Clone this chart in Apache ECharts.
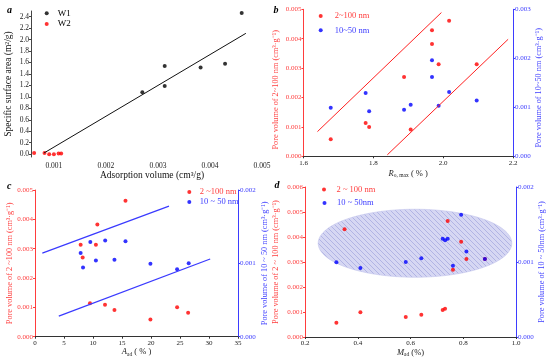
<!DOCTYPE html>
<html><head><meta charset="utf-8">
<script src="https://cdn.jsdelivr.net/npm/echarts@6/dist/echarts.min.js"></script>
<style>html,body{margin:0;padding:0;background:#fff}#c{width:550px;height:360px}</style>
</head><body><div id="c"></div>
<script>
// ---------- Panel a ----------
const aW1X = [0.0027, 0.00313, 0.00313, 0.00382, 0.00429, 0.00461];
const aW1Y = [1.08, 1.54, 1.19, 1.515, 1.58, 2.465];
const aW2X = [0.00062, 0.00082, 0.00091, 0.00100, 0.00109, 0.00114];
const aW2Y = [0.02, 0.02, 0.0, 0.0, 0.01, 0.01];
const aFitX = [0.00081, 0.00469];
const aFitY = [0.02, 2.11];
const aXTicks = [0.001, 0.002, 0.003, 0.004, 0.005];
const aYTicks = [0, 0.2, 0.4, 0.6, 0.8, 1.0, 1.2, 1.4, 1.6, 1.8, 2.0, 2.2, 2.4];
// ---------- Panel b ----------
const bRoRedX = [1.678, 1.778, 1.788, 1.888, 1.907, 1.968, 1.968, 1.987, 2.017, 2.096];
const bRedY = [0.00058, 0.00113, 0.00100, 0.00270, 0.00091, 0.00429, 0.00382, 0.00313, 0.00461, 0.00313];
const bRoBlueX = [1.678, 1.778, 1.788, 1.888, 1.907, 1.968, 1.968, 1.987, 2.017, 2.096];
const bBlueY = [0.00099, 0.00129, 0.00092, 0.00095, 0.00105, 0.00196, 0.00162, 0.00103, 0.00131, 0.00114];
const bLine1X = [1.640, 1.995], bLine1Y = [0.00084, 0.00489];
const bLine2X = [1.840, 2.186], bLine2Y = [0.00005, 0.00398];
// ---------- Panel c ----------
const cRedX = [7.87, 8.22, 10.5, 10.75, 15.6, 9.48, 12.07, 13.7, 19.9, 24.5, 26.4];
const cRedY = [0.00313, 0.00270, 0.00313, 0.00382, 0.00463, 0.00114, 0.00109, 0.00091, 0.00059, 0.00100, 0.00082];
const cBlueX = [7.87, 8.28, 9.54, 10.5, 12.1, 13.7, 15.6, 19.9, 24.5, 26.5];
const cBlueY = [0.00114, 0.000945, 0.00129, 0.00104, 0.00131, 0.00105, 0.00130, 0.000995, 0.00092, 0.00100];
const cLine1X = [1.26, 23.1], cLine1Y = [0.00114, 0.00178];
const cLine2X = [4.1, 30.2], cLine2Y = [0.00028, 0.00106];
// ---------- Panel d ----------
const dRedX = [0.319, 0.350, 0.410, 0.582, 0.641, 0.722, 0.731, 0.741, 0.792, 0.812, 0.761, 0.882];
const dRedY = [0.00057, 0.00431, 0.00099, 0.00080, 0.00089, 0.00108, 0.00113, 0.00464, 0.00381, 0.00312, 0.00269, 0.00312];
const dBlueX = [0.319, 0.410, 0.582, 0.641, 0.722, 0.731, 0.741, 0.792, 0.812, 0.761, 0.882];
const dBlueY = [0.000996, 0.00092, 0.00100, 0.00105, 0.00131, 0.00129, 0.00131, 0.00163, 0.00114, 0.00095, 0.00104];
const dEllipse = [0.617, 0.00375, 0.367, 0.00136]; // cx, cy, rx, ry

const F = '"Liberation Serif","Times New Roman",serif';
const RED = '#ff3d3d', BLUE = '#3d3dff', DARK = '#222';
const pairs = (xs, ys) => xs.map((x, i) => [x, ys[i]]);

// hatch pattern
const pc = document.createElement('canvas');
pc.width = 5; pc.height = 5;
const g = pc.getContext('2d');
g.fillStyle = '#d6d7f3'; g.fillRect(0, 0, 5, 5);
g.strokeStyle = '#adb0e2'; g.lineWidth = 0.9;
g.beginPath();
g.moveTo(0, 0); g.lineTo(5, 5);
g.moveTo(-1, 4); g.lineTo(1, 6);
g.moveTo(4, -1); g.lineTo(6, 1);
g.stroke();

const tickFont = (c, size) => ({ fontFamily: F, fontSize: size || 7, color: c });
const nameStyle = (c, size) => ({ fontFamily: F, fontSize: size || 8.3, color: c });
const subRich = (c) => ({
  fontFamily: F, fontSize: 8.5, color: c,
  rich: {
    i: { fontFamily: F, fontSize: 8.5, fontStyle: 'italic', color: c },
    sub: { fontFamily: F, fontSize: 5.5, color: c, padding: [4, 0, 0, 0] },
    t: { fontFamily: F, fontSize: 8.5, color: c }
  }
});

function xVal(grid, min, max, interval, fmt, name, gap, nts, extra) {
  return Object.assign({
    gridIndex: grid, type: 'value', min, max, interval,
    axisLine: { show: true, onZero: false, lineStyle: { color: '#333', width: 1 } },
    axisTick: { show: true, length: 2, lineStyle: { color: '#333' } },
    splitLine: { show: false },
    axisLabel: Object.assign(tickFont(DARK), { margin: 3, formatter: fmt }),
    name, nameLocation: 'middle', nameGap: gap, nameTextStyle: nts
  }, extra || {});
}
function yVal(grid, pos, min, max, interval, color, name, gap, extra) {
  return Object.assign({
    gridIndex: grid, type: 'value', position: pos, min, max, interval,
    axisLine: { show: true, onZero: false, lineStyle: { color, width: 1 } },
    axisTick: { show: true, length: 2, lineStyle: { color } },
    splitLine: { show: false },
    axisLabel: Object.assign(tickFont(color), { margin: 2, formatter: v => v.toFixed(3) }),
    name, nameLocation: 'middle', nameGap: gap, nameRotate: 90, nameTextStyle: nameStyle(color)
  }, extra || {});
}

const option = {
  animation: false,
  backgroundColor: '#fff',
  title: [
    { text: 'a', left: 7, top: 5.5, padding: 0, textStyle: { fontFamily: F, fontStyle: 'italic', fontWeight: 'bold', fontSize: 10, color: '#000' } },
    { text: 'b', left: 273.5, top: 5.5, padding: 0, textStyle: { fontFamily: F, fontStyle: 'italic', fontWeight: 'bold', fontSize: 10, color: '#000' } },
    { text: 'c', left: 7, top: 181.5, padding: 0, textStyle: { fontFamily: F, fontStyle: 'italic', fontWeight: 'bold', fontSize: 10, color: '#000' } },
    { text: 'd', left: 274.5, top: 180, padding: 0, textStyle: { fontFamily: F, fontStyle: 'italic', fontWeight: 'bold', fontSize: 10, color: '#000' } }
  ],
  grid: [
    { left: 31, top: 11, width: 231, height: 146, outerBoundsMode: 'none', containLabel: false },
    { left: 303.5, top: 9.3, width: 209.5, height: 147, outerBoundsMode: 'none', containLabel: false },
    { left: 35, top: 190, width: 203, height: 146.7, outerBoundsMode: 'none', containLabel: false },
    { left: 305, top: 187, width: 211, height: 150, outerBoundsMode: 'none', containLabel: false }
  ],
  legend: [
    { data: ['W1'], left: 44.7, top: 8.8, textStyle: { color: '#000', fontFamily: F, fontSize: 9, padding: [0, 0, 0, 4] } },
    { data: ['W2'], left: 44.7, top: 19.5, textStyle: { color: '#000', fontFamily: F, fontSize: 9, padding: [0, 0, 0, 4] } },
    { data: ['2~100 nm'], left: 318.7, top: 11.5, textStyle: { color: RED, fontFamily: F, fontSize: 8.5, padding: [0, 0, 0, 7] } },
    { data: ['10~50 nm'], left: 318.7, top: 25.8, textStyle: { color: BLUE, fontFamily: F, fontSize: 8.5, padding: [0, 0, 0, 7] } },
    { data: ['2 ~100 nm'], left: 187.3, top: 187.5, textStyle: { color: RED, fontFamily: F, fontSize: 8.5, padding: [0, 0, 0, 3.5] } },
    { data: ['10 ~ 50 nm'], left: 187.3, top: 197.5, textStyle: { color: BLUE, fontFamily: F, fontSize: 8.5, padding: [0, 0, 0, 3.5] } },
    { data: ['2 ~ 100 nm'], left: 322, top: 185, textStyle: { color: RED, fontFamily: F, fontSize: 8.5, padding: [0, 0, 0, 5.5] } },
    { data: ['10 ~ 50nm'], left: 322.5, top: 198.5, textStyle: { color: BLUE, fontFamily: F, fontSize: 8.5, padding: [0, 0, 0, 5.5] } }
  ].map(l => Object.assign({ padding: 0, itemWidth: 4, itemHeight: 4, icon: 'circle', selectedMode: false, orient: 'horizontal' }, l)),
  xAxis: [
    xVal(0, 0.00056, 0.005, null, v => v.toFixed(3), 'Adsorption volume (cm³/g)', 12.5,
      Object.assign(nameStyle('#111', 9.5), { padding: [0, 0, 0, 11] }),
      { axisLine: { show: false }, axisTick: { show: false },
        axisLabel: Object.assign(tickFont(DARK, 7.5), { margin: 5, customValues: aXTicks, formatter: v => v.toFixed(3) }) }),
    xVal(1, 1.6, 2.2, 0.2, v => v.toFixed(1), '{i|R}{sub|o, max}{t| ( % )}', 12, subRich(DARK)),
    xVal(2, 0, 35, 5, v => String(Math.round(v)), '{i|A}{sub|ad}{t| ( % )}', 8.5, subRich(DARK)),
    xVal(3, 0.2, 1.0, 0.2, v => v.toFixed(1), '{i|M}{sub|ad}{t| (%)}', 8.5, subRich(DARK))
  ],
  yAxis: [
    {
      gridIndex: 0, type: 'value', min: -0.05, max: 2.5,
      axisLine: { show: true, onZero: false, lineStyle: { color: '#444' } },
      axisTick: { show: true, length: 2, customValues: aYTicks, lineStyle: { color: '#444' } },
      splitLine: { show: false },
      axisLabel: Object.assign(tickFont(DARK, 7.5), { margin: 2, customValues: aYTicks, formatter: v => v.toFixed(1) }),
      name: 'Specific surface area (m²/g)', nameLocation: 'middle', nameGap: 18, nameRotate: 90,
      nameTextStyle: nameStyle('#111', 9.5)
    },
    yVal(1, 'left', 0, 0.005, 0.001, RED, 'Pore volume of 2~100 nm (cm³·g⁻¹)', 23.5,
      { nameTextStyle: Object.assign(nameStyle(RED), { padding: [0, 14, 0, 0] }) }),
    yVal(1, 'right', 0, 0.003, 0.001, BLUE, 'Pore volume of 10~50 nm (cm³·g⁻¹)', 19.7,
      { nameTextStyle: Object.assign(nameStyle(BLUE), { padding: [0, 10, 0, 0] }) }),
    yVal(2, 'left', 0, 0.005, 0.001, RED, 'Pore volume of 2 ~100 nm (cm³·g⁻¹)', 17.7),
    yVal(2, 'right', 0, 0.002, 0.001, BLUE, 'Pore volume of 10 ~ 50 nm (cm³·g⁻¹)', 23),
    yVal(3, 'left', 0, 0.006, 0.001, RED, 'Pore volume of 2 ~ 100 nm (cm³·g⁻¹)', 25),
    yVal(3, 'right', 0, 0.002, 0.001, BLUE, 'Pore volume of 10 ~ 50nm (cm³·g⁻¹)', 22.3)
  ],
  series: [
    { type: 'scatter', name: 'W1', xAxisIndex: 0, yAxisIndex: 0, data: pairs(aW1X, aW1Y), symbolSize: 4, itemStyle: { color: '#000' } },
    { type: 'scatter', name: 'W2', xAxisIndex: 0, yAxisIndex: 0, data: pairs(aW2X, aW2Y), symbolSize: 4, itemStyle: { color: '#ff0000' } },
    { type: 'line', name: 'fitA', xAxisIndex: 0, yAxisIndex: 0, data: pairs(aFitX, aFitY), symbol: 'none', lineStyle: { color: '#111', width: 1 } },

    { type: 'line', name: 'fitB1', xAxisIndex: 1, yAxisIndex: 1, data: pairs(bLine1X, bLine1Y), symbol: 'none', lineStyle: { color: '#ff2020', width: 1 } },
    { type: 'line', name: 'fitB2', xAxisIndex: 1, yAxisIndex: 1, data: pairs(bLine2X, bLine2Y), symbol: 'none', lineStyle: { color: '#ff2020', width: 1 } },
    { type: 'scatter', name: '2~100 nm', xAxisIndex: 1, yAxisIndex: 1, data: pairs(bRoRedX, bRedY), symbolSize: 4, itemStyle: { color: '#ff0000' } },
    { type: 'scatter', name: '10~50 nm', xAxisIndex: 1, yAxisIndex: 2, data: pairs(bRoBlueX, bBlueY), symbolSize: 4, itemStyle: { color: '#0000ff' } },

    { type: 'line', name: 'fitC1', xAxisIndex: 2, yAxisIndex: 4, data: pairs(cLine1X, cLine1Y), symbol: 'none', lineStyle: { color: '#3a3aff', width: 1.2 } },
    { type: 'line', name: 'fitC2', xAxisIndex: 2, yAxisIndex: 4, data: pairs(cLine2X, cLine2Y), symbol: 'none', lineStyle: { color: '#3a3aff', width: 1.2 } },
    { type: 'scatter', name: '2 ~100 nm', xAxisIndex: 2, yAxisIndex: 3, data: pairs(cRedX, cRedY), symbolSize: 4, itemStyle: { color: '#ff0000' } },
    { type: 'scatter', name: '10 ~ 50 nm', xAxisIndex: 2, yAxisIndex: 4, data: pairs(cBlueX, cBlueY), symbolSize: 4, itemStyle: { color: '#0000ff' } },

    {
      type: 'custom', name: 'ellipse', xAxisIndex: 3, yAxisIndex: 5, data: [dEllipse], silent: true, z: 1,
      renderItem: function (params, api) {
        const c = api.coord([api.value(0), api.value(1)]);
        const s = api.size([api.value(2), api.value(3)]);
        const pts = [];
        for (let k = 0; k < 120; k++) {
          const t = k / 120 * Math.PI * 2;
          pts.push([c[0] + s[0] * Math.cos(t), c[1] + s[1] * Math.sin(t)]);
        }
        return { type: 'polygon', shape: { points: pts }, style: { fill: { image: pc, repeat: 'repeat' }, stroke: '#c2c4ec', lineWidth: 0.6 } };
      }
    },
    { type: 'scatter', name: '2 ~ 100 nm', xAxisIndex: 3, yAxisIndex: 5, data: pairs(dRedX, dRedY), symbolSize: 4, itemStyle: { color: '#ff0000' }, z: 3 },
    { type: 'scatter', name: '10 ~ 50nm', xAxisIndex: 3, yAxisIndex: 6, data: pairs(dBlueX, dBlueY), symbolSize: 4, itemStyle: { color: '#0000ff' }, z: 3 }
  ]
};
const chart = echarts.init(document.getElementById('c'), null, { renderer: 'canvas' });
chart.setOption(option);
</script></body></html>
